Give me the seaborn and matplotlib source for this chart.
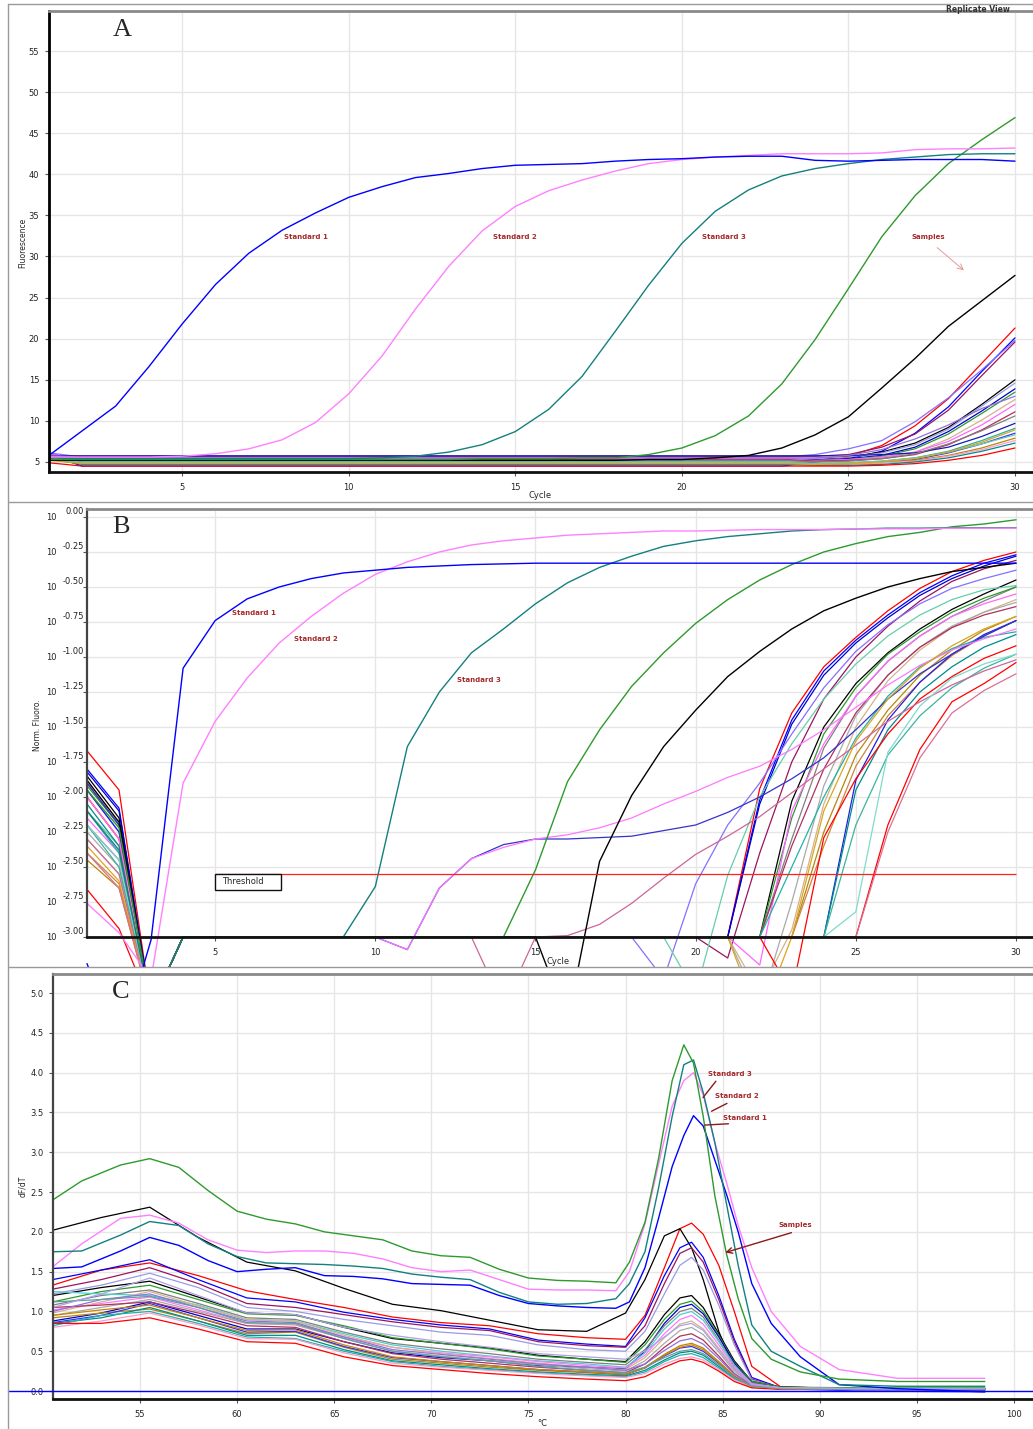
import matplotlib
matplotlib.use("Agg")
import matplotlib.pyplot as plt
from matplotlib.patches import Rectangle
from matplotlib.lines import Line2D
import pandas as pd
import seaborn as sns

sns.set_style("white")
plt.rcParams['font.family'] = ['DejaVu Sans']

# ------------------------------------------------------------------ data
CYCLES = list(range(1, 31))

# Panel A : raw fluorescence
A_STD1 = [5.8, 8.8, 11.8, 16.6, 21.8, 26.6, 30.4, 33.2, 35.3, 37.2, 38.5, 39.6, 40.1, 40.7, 41.1,
          41.2, 41.3, 41.6, 41.8, 41.9, 42.1, 42.2, 42.2, 41.7, 41.6, 41.7, 41.8, 41.8, 41.8, 41.6]
A_STD2 = [5.6, 5.6, 5.6, 5.6, 5.7, 6.0, 6.6, 7.7, 9.8, 13.3, 17.9, 23.6, 28.8, 33.1, 36.1,
          38.0, 39.3, 40.4, 41.3, 41.8, 42.1, 42.3, 42.5, 42.5, 42.5, 42.6, 43.0, 43.1, 43.1, 43.2]
A_STD3 = [5.5, 5.4, 5.4, 5.4, 5.4, 5.4, 5.4, 5.4, 5.4, 5.4, 5.5, 5.7, 6.2, 7.1, 8.7,
          11.4, 15.4, 20.9, 26.5, 31.6, 35.5, 38.1, 39.8, 40.7, 41.3, 41.8, 42.1, 42.4, 42.5, 42.5]
A_GREEN = [5.3, 5.3, 5.3, 5.3, 5.3, 5.3, 5.3, 5.3, 5.3, 5.3, 5.3, 5.3, 5.3, 5.4, 5.4,
           5.4, 5.5, 5.5, 5.9, 6.7, 8.2, 10.6, 14.5, 19.9, 26.1, 32.4, 37.4, 41.3, 44.2, 46.9]
A_BLACK = [5.2, 5.2, 5.2, 5.2, 5.2, 5.2, 5.2, 5.2, 5.2, 5.2, 5.2, 5.2, 5.2, 5.2, 5.2,
           5.2, 5.2, 5.2, 5.3, 5.3, 5.5, 5.8, 6.7, 8.3, 10.5, 14.0, 17.6, 21.5, 24.6, 27.7]
A_SMP_START = [6.0, 5.9, 6.1, 5.8, 5.6, 5.9, 5.7, 5.8, 5.5, 5.9, 5.6, 5.7, 5.5, 5.4, 5.3,
               5.6, 5.4, 4.9, 5.6, 5.3, 5.2, 5.7]
A_SMP_BASE = [5.3, 4.5, 5.6, 5.7, 5.4, 5.5, 5.3, 5.2, 5.0, 5.4, 5.3, 5.75, 5.0, 4.8, 4.8,
              4.9, 4.7, 4.5, 5.2, 4.9, 4.8, 5.5]
A_SMP_TAIL = [  # cycles 24..30
    [5.4, 5.7, 7.0, 9.4, 12.7, 17.0, 21.3],
    [5.0, 5.4, 6.3, 8.5, 11.7, 16.0, 20.1],
    [5.9, 6.6, 7.6, 9.9, 12.8, 16.2, 19.8],
    [5.7, 5.9, 6.8, 8.4, 11.3, 15.5, 19.6],
    [5.3, 5.6, 6.2, 7.3, 9.2, 12.0, 15.0],
    [5.4, 5.6, 6.1, 7.1, 9.0, 11.8, 14.6],
    [5.2, 5.4, 5.8, 6.8, 8.7, 11.2, 13.9],
    [5.1, 5.3, 5.7, 6.6, 8.4, 10.9, 13.5],
    [5.0, 5.1, 5.5, 6.2, 7.8, 10.1, 12.6],
    [5.2, 5.3, 5.6, 6.2, 7.5, 9.5, 12.0],
    [5.1, 5.2, 5.4, 5.9, 7.1, 8.9, 11.1],
    [5.75, 5.8, 5.9, 6.1, 6.8, 8.1, 9.7],
    [4.8, 4.9, 5.1, 5.5, 6.3, 7.6, 9.1],
    [4.7, 4.8, 5.0, 5.3, 6.1, 7.2, 8.5],
    [4.7, 4.8, 4.9, 5.2, 5.8, 6.7, 7.9],
    [4.7, 4.8, 4.9, 5.1, 5.7, 6.5, 7.6],
    [4.6, 4.6, 4.7, 5.0, 5.5, 6.3, 7.3],
    [4.5, 4.5, 4.6, 4.8, 5.2, 5.8, 6.7],
    [5.0, 5.1, 5.4, 6.0, 7.2, 8.8, 10.6],
    [4.8, 4.9, 5.1, 5.5, 6.2, 7.2, 8.3],
    [4.7, 4.8, 5.0, 5.4, 6.2, 7.4, 8.9],
    [5.5, 5.8, 6.5, 7.8, 9.5, 11.5, 13.0],
]

# Panel B : normalised fluorescence, stored as log10 values
B_YTICK_EXP = ["0.00", "-0.25", "-0.50", "-0.75", "-1.00", "-1.25", "-1.50",
               "-1.75", "-2.00", "-2.25", "-2.50", "-2.75", "-3.00"]
B_THRESHOLD = -2.55
B_STD1 = [-3.19, -3.8, -3.02, -1.08, -0.74, -0.585, -0.50, -0.44, -0.40, -0.38, -0.36, -0.35, -0.34, -0.335,
          -0.33, -0.33, -0.33, -0.33, -0.33, -0.33, -0.33, -0.33, -0.33, -0.33, -0.33, -0.33, -0.33, -0.33,
          -0.33, -0.33]
B_STD2 = [-2.76, -2.97, -3.3, -1.90, -1.46, -1.15, -0.90, -0.71, -0.545, -0.41, -0.32, -0.25, -0.20, -0.17,
          -0.15, -0.13, -0.12, -0.11, -0.10, -0.10, -0.095, -0.09, -0.09, -0.09, -0.085, -0.085, -0.085,
          -0.08, -0.08, -0.08]
B_STD3 = [-2.1, -2.38, -3.5, -3.0, -3.0, -3.0, -3.0, -3.0, -3.0, -2.64, -1.64, -1.25, -0.97, -0.80, -0.62,
          -0.47, -0.36, -0.28, -0.21, -0.17, -0.14, -0.12, -0.10, -0.09, -0.086, -0.08, -0.08, -0.077,
          -0.077, -0.077]
B_GREEN = [-1.95, -2.22, -3.5, -3.0, -3.0, -3.0, -3.0, -3.0, -3.0, -3.0, -3.0, -3.0, -3.0, -3.0, -2.52,
           -1.89, -1.52, -1.21, -0.97, -0.76, -0.59, -0.45, -0.34, -0.25, -0.19, -0.14, -0.11, -0.07,
           -0.05, -0.02]
B_BLACK = [-1.88, -2.18, -3.5, -3.0, -3.0, -3.0, -3.0, -3.0, -3.0, -3.0, -3.0, -3.0, -3.0, -3.0, -3.0,
           -3.6, -2.46, -1.99, -1.64, -1.38, -1.14, -0.96, -0.80, -0.67, -0.58, -0.50, -0.44, -0.39,
           -0.36, -0.33]
B_SMP_C1 = [-1.67, -1.80, -1.82, -1.90, -1.95, -1.85, -2.10, -2.00, -1.92, -2.15, -2.30, -2.25, -2.20,
            -2.45, -2.40, -1.95, -2.10, -2.05, -2.66, -2.20, -2.00, -2.30, -1.90, -2.00, -2.20, -2.35, -2.40]
B_SMP_C2 = [-1.95, -2.08, -2.10, -2.20, -2.25, -2.15, -2.35, -2.30, -2.20, -2.40, -2.55, -2.50, -2.45,
            -2.65, -2.62, -2.25, -2.40, -2.35, -2.94, -2.50, -2.30, -2.55, -2.20, -2.30, -2.45, -2.60, -2.65]
B_SMP_C3 = -3.5
B_FLOOR = -3.0
B_SMP_RISE = [21, 21, 21, 21, 19, 22, 20, 22, 22, 22, 22, 22, 22, 23, 23, 24, 22, 24, 23, 24, 25,
              13, 10, 10, 24, 22, 25]
B_SMP_TAIL = [  # from the rise cycle up to cycle 30
    [-3.0, -1.94, -1.40, -1.07, -0.86, -0.67, -0.51, -0.39, -0.31, -0.25],
    [-3.0, -2.02, -1.45, -1.10, -0.88, -0.70, -0.54, -0.42, -0.33, -0.27],
    [-3.0, -2.05, -1.48, -1.13, -0.90, -0.72, -0.56, -0.44, -0.35, -0.28],
    [-3.15, -2.40, -1.75, -1.30, -1.00, -0.78, -0.60, -0.46, -0.37, -0.31],
    [-3.3, -2.62, -2.20, -1.90, -1.55, -1.22, -0.96, -0.77, -0.62, -0.51, -0.44, -0.38],
    [-3.0, -2.03, -1.50, -1.19, -0.97, -0.80, -0.66, -0.55, -0.45],
    [-3.4, -2.56, -2.0, -1.62, -1.30, -1.05, -0.85, -0.70, -0.59, -0.52, -0.49],
    [-3.0, -2.3, -1.65, -1.28, -1.03, -0.85, -0.71, -0.60, -0.50],
    [-3.0, -2.15, -1.55, -1.22, -0.98, -0.82, -0.68, -0.58, -0.50],
    [-3.2, -2.1, -1.62, -1.28, -1.03, -0.85, -0.71, -0.62, -0.55],
    [-3.4, -2.95, -2.05, -1.50, -1.17, -0.95, -0.79, -0.68, -0.59],
    [-3.5, -2.75, -1.92, -1.42, -1.13, -0.93, -0.78, -0.68, -0.61],
    [-3.0, -2.35, -1.80, -1.40, -1.13, -0.93, -0.79, -0.70, -0.64],
    [-3.0, -2.25, -1.70, -1.38, -1.13, -0.95, -0.81, -0.71],
    [-3.0, -2.35, -1.78, -1.42, -1.18, -0.99, -0.85, -0.74],
    [-3.0, -1.88, -1.45, -1.18, -0.98, -0.84, -0.74],
    [-3.0, -2.5, -2.0, -1.58, -1.28, -1.07, -0.94, -0.86, -0.82],
    [-3.0, -1.95, -1.52, -1.25, -1.07, -0.93, -0.84],
    [-3.4, -2.29, -1.87, -1.55, -1.30, -1.14, -1.01, -0.92],
    [-3.0, -2.2, -1.70, -1.42, -1.22, -1.08, -0.98],
    [-3.0, -2.2, -1.66, -1.32, -1.19, -1.04],
    [-3.0, -3.5, -3.0, -2.99, -2.91, -2.76, -2.58, -2.41, -2.28, -2.14, -1.97, -1.80, -1.63, -1.46,
     -1.32, -1.20, -1.10, -1.02],
    [-3.0, -3.09, -2.65, -2.44, -2.34, -2.30, -2.30, -2.29, -2.28, -2.24, -2.20, -2.11, -2.00, -1.87,
     -1.72, -1.52, -1.30, -1.12, -0.98, -0.85, -0.74],
    [-3.0, -3.09, -2.65, -2.44, -2.36, -2.30, -2.27, -2.22, -2.15, -2.05, -1.96, -1.86, -1.78, -1.66,
     -1.52, -1.36, -1.20, -1.06, -0.95, -0.87, -0.80],
    [-3.0, -2.82, -1.68, -1.35, -1.15, -1.05, -0.98],
    [-3.6, -3.0, -2.1, -1.60, -1.30, -1.08, -0.92, -0.80, -0.71],
    [-3.0, -2.25, -1.72, -1.40, -1.24, -1.12],
]

# Panel C : melt curves (dF/dT)
C_T_STD = [50.5, 52, 54, 55.5, 57, 58.5, 60, 61.5, 63, 64.5, 66, 67.5, 69, 70.5, 72, 73.5, 75, 76.5,
           78, 79.5, 80.2, 81, 81.7, 82.4, 83, 83.5, 84, 84.6, 85.2, 85.8, 86.5, 87.5, 89, 91, 94, 98.5]
C_GREEN = [2.40, 2.64, 2.84, 2.92, 2.81, 2.52, 2.26, 2.16, 2.10, 2.00, 1.95, 1.90, 1.76, 1.70, 1.68, 1.53,
           1.42, 1.39, 1.38, 1.36, 1.62, 2.12, 2.92, 3.90, 4.35, 4.12, 3.45, 2.45, 1.72, 1.16, 0.66, 0.40,
           0.24, 0.15, 0.12, 0.12]
C_STD3 = [1.75, 1.76, 1.96, 2.13, 2.08, 1.85, 1.69, 1.61, 1.60, 1.59, 1.57, 1.54, 1.47, 1.43, 1.40, 1.24,
          1.12, 1.09, 1.10, 1.16, 1.35, 1.75, 2.55, 3.45, 4.10, 4.16, 3.75, 3.12, 2.35, 1.58, 0.83, 0.50,
          0.31, 0.08, 0.06, 0.06]
C_STD2 = [1.56, 1.85, 2.17, 2.21, 2.11, 1.90, 1.77, 1.74, 1.76, 1.76, 1.73, 1.66, 1.55, 1.50, 1.52, 1.40,
          1.28, 1.27, 1.27, 1.26, 1.50, 2.10, 2.85, 3.58, 3.90, 4.00, 3.72, 3.12, 2.62, 2.08, 1.55, 1.00,
          0.56, 0.27, 0.16, 0.16]
C_STD1 = [1.54, 1.56, 1.76, 1.93, 1.83, 1.64, 1.50, 1.53, 1.55, 1.45, 1.44, 1.41, 1.35, 1.34, 1.33, 1.20,
          1.10, 1.07, 1.05, 1.04, 1.12, 1.55, 2.17, 2.82, 3.21, 3.46, 3.33, 2.90, 2.47, 2.00, 1.35, 0.85,
          0.43, 0.08, 0.03, -0.01]
C_T_SMP = [50.5, 53, 55.5, 58, 60.5, 63, 65.5, 68, 70.5, 73, 75.5, 78, 80, 81, 82, 82.8, 83.4, 84,
           84.8, 85.6, 86.5, 88, 92, 98.5]
C_SMP = [
    [1.33, 1.52, 1.61, 1.45, 1.26, 1.15, 1.05, 0.93, 0.86, 0.82, 0.72, 0.67, 0.65, 0.95, 1.55, 2.04, 2.11, 1.97, 1.58, 1.00, 0.31, 0.05, 0.03, 0.03],
    [2.02, 2.18, 2.31, 1.93, 1.62, 1.51, 1.29, 1.09, 1.01, 0.89, 0.77, 0.75, 0.98, 1.40, 1.95, 2.04, 1.80, 1.40, 0.75, 0.28, 0.08, 0.05, 0.03, 0.03],
    [1.40, 1.52, 1.65, 1.40, 1.17, 1.12, 0.99, 0.90, 0.83, 0.78, 0.64, 0.59, 0.56, 0.92, 1.45, 1.80, 1.87, 1.68, 1.20, 0.65, 0.17, 0.04, 0.02, 0.02],
    [1.28, 1.40, 1.55, 1.35, 1.10, 1.05, 0.96, 0.87, 0.80, 0.76, 0.62, 0.57, 0.55, 0.82, 1.35, 1.73, 1.80, 1.62, 1.15, 0.62, 0.15, 0.04, 0.02, 0.02],
    [1.22, 1.33, 1.48, 1.30, 1.05, 1.00, 0.90, 0.82, 0.74, 0.70, 0.58, 0.52, 0.50, 0.75, 1.22, 1.58, 1.68, 1.52, 1.08, 0.58, 0.14, 0.04, 0.02, 0.02],
    [1.20, 1.30, 1.38, 1.18, 0.98, 0.96, 0.80, 0.66, 0.60, 0.54, 0.45, 0.40, 0.37, 0.62, 0.96, 1.17, 1.20, 1.05, 0.72, 0.38, 0.12, 0.05, 0.03, 0.03],
    [1.12, 1.25, 1.33, 1.15, 0.97, 0.95, 0.82, 0.67, 0.60, 0.53, 0.44, 0.40, 0.36, 0.58, 0.90, 1.09, 1.13, 1.00, 0.70, 0.36, 0.12, 0.05, 0.04, 0.04],
    [0.88, 0.98, 1.12, 0.95, 0.78, 0.78, 0.62, 0.48, 0.42, 0.38, 0.32, 0.30, 0.28, 0.50, 0.85, 1.05, 1.09, 0.97, 0.68, 0.35, 0.10, 0.04, 0.02, 0.01],
    [1.08, 1.20, 1.27, 1.10, 0.92, 0.90, 0.74, 0.60, 0.53, 0.47, 0.40, 0.36, 0.33, 0.52, 0.82, 1.00, 1.04, 0.93, 0.64, 0.33, 0.10, 0.04, 0.03, 0.03],
    [1.25, 1.22, 1.20, 1.08, 0.90, 0.88, 0.72, 0.58, 0.50, 0.44, 0.38, 0.34, 0.30, 0.48, 0.78, 0.96, 1.00, 0.89, 0.62, 0.32, 0.09, 0.04, 0.03, 0.03],
    [1.02, 1.10, 1.18, 1.02, 0.85, 0.84, 0.68, 0.55, 0.48, 0.43, 0.37, 0.32, 0.29, 0.45, 0.72, 0.90, 0.95, 0.84, 0.58, 0.30, 0.09, 0.04, 0.03, 0.03],
    [0.98, 1.12, 1.25, 1.07, 0.90, 0.88, 0.70, 0.55, 0.47, 0.41, 0.35, 0.30, 0.27, 0.42, 0.67, 0.84, 0.88, 0.78, 0.54, 0.28, 0.08, 0.04, 0.02, 0.02],
    [0.95, 1.05, 1.15, 1.00, 0.85, 0.83, 0.66, 0.50, 0.44, 0.38, 0.33, 0.28, 0.25, 0.38, 0.60, 0.76, 0.80, 0.71, 0.49, 0.25, 0.08, 0.04, 0.02, 0.02],
    [1.05, 1.08, 1.12, 0.98, 0.82, 0.80, 0.62, 0.47, 0.40, 0.35, 0.30, 0.26, 0.23, 0.34, 0.55, 0.69, 0.72, 0.64, 0.44, 0.22, 0.07, 0.03, 0.02, 0.02],
    [0.92, 0.98, 1.03, 0.88, 0.72, 0.74, 0.55, 0.40, 0.35, 0.30, 0.26, 0.23, 0.20, 0.30, 0.46, 0.57, 0.60, 0.54, 0.37, 0.19, 0.06, 0.03, 0.02, 0.02],
    [0.86, 0.95, 1.10, 0.92, 0.74, 0.75, 0.56, 0.42, 0.37, 0.32, 0.27, 0.24, 0.21, 0.29, 0.44, 0.54, 0.56, 0.50, 0.35, 0.18, 0.06, 0.03, 0.00, -0.01],
    [0.85, 0.92, 1.05, 0.88, 0.70, 0.70, 0.52, 0.38, 0.33, 0.28, 0.24, 0.21, 0.19, 0.26, 0.39, 0.48, 0.50, 0.45, 0.31, 0.16, 0.05, 0.03, 0.02, 0.02],
    [0.82, 0.95, 1.00, 0.85, 0.68, 0.66, 0.50, 0.37, 0.31, 0.27, 0.23, 0.20, 0.18, 0.24, 0.37, 0.45, 0.47, 0.42, 0.29, 0.15, 0.05, 0.03, 0.02, 0.02],
    [0.80, 0.88, 0.98, 0.83, 0.66, 0.65, 0.48, 0.35, 0.30, 0.26, 0.22, 0.19, 0.17, 0.22, 0.34, 0.41, 0.43, 0.39, 0.27, 0.14, 0.05, 0.03, 0.02, 0.02],
    [0.85, 0.85, 0.92, 0.78, 0.62, 0.60, 0.43, 0.32, 0.27, 0.22, 0.18, 0.15, 0.13, 0.18, 0.30, 0.38, 0.40, 0.36, 0.25, 0.12, 0.04, 0.02, 0.02, 0.02],
    [1.00, 1.15, 1.22, 1.05, 0.88, 0.86, 0.68, 0.52, 0.46, 0.40, 0.34, 0.30, 0.26, 0.34, 0.51, 0.63, 0.66, 0.59, 0.41, 0.21, 0.07, 0.03, 0.02, 0.02],
    [0.95, 1.02, 1.08, 0.92, 0.76, 0.77, 0.58, 0.43, 0.37, 0.32, 0.27, 0.24, 0.21, 0.29, 0.45, 0.55, 0.58, 0.52, 0.36, 0.18, 0.06, 0.03, 0.02, 0.02],
    [1.12, 1.15, 1.19, 1.05, 0.86, 0.85, 0.66, 0.50, 0.43, 0.38, 0.31, 0.26, 0.23, 0.30, 0.42, 0.50, 0.52, 0.47, 0.33, 0.17, 0.06, 0.03, 0.02, 0.02],
    [1.05, 1.22, 1.42, 1.20, 0.98, 0.96, 0.80, 0.70, 0.62, 0.55, 0.47, 0.43, 0.40, 0.50, 0.68, 0.82, 0.85, 0.76, 0.52, 0.27, 0.08, 0.04, 0.03, 0.03],
]

# ------------------------------------------------------------------ styles
C_BLUE, C_PINK, C_TEAL, C_GRN = "#0000FF", "#FF80FF", "#13807F", "#2E9A2E"
A_SMP_COLORS = ["#FF0000", "#0000FF", "#8470FF", "#99155F", "#000000", "#9A9AE6", "#0000CD", "#2E9A2E",
                "#D2B48C", "#FF66FF", "#B03060", "#1A1AAA", "#20B2AA", "#3333FF", "#B8860B", "#FF99CC",
                "#008B8B", "#FF0000", "#808080", "#66CDAA", "#DAA520", "#9370DB"]
B_SMP_COLORS = ["#FF0000", "#0000FF", "#0000CD", "#99155F", "#8470FF", "#000000", "#66CDAA", "#808080",
                "#2E9A2E", "#FF66FF", "#D2B48C", "#A9A9A9", "#B03060", "#B8860B", "#CD853F", "#2020E0",
                "#20B2AA", "#008B8B", "#FF0000", "#3CB3A0", "#FF0000", "#CC6699", "#3333CC", "#FF77FF",
                "#7FDBCA", "#DAA520", "#DB7093"]
C_SMP_COLORS = ["#FF0000", "#000000", "#0000FF", "#99155F", "#9A9AE6", "#000000", "#2E9A2E", "#0000CD",
                "#808080", "#48D1CC", "#FF77FF", "#D2B48C", "#A9A9A9", "#B03060", "#B8860B", "#3333FF",
                "#008B8B", "#20B2AA", "#FF99CC", "#FF0000", "#9370DB", "#CD8500", "#5F9EA0", "#B0A0E8"]
ANN = "#A52A2A"

# ------------------------------------------------------------------ build series
A_SMP = [[s] + [b] * 22 + t for s, b, t in zip(A_SMP_START, A_SMP_BASE, A_SMP_TAIL)]
B_SMP = [[c1, c2, B_SMP_C3] + [B_FLOOR] * (r - 4) + t
         for c1, c2, r, t in zip(B_SMP_C1, B_SMP_C2, B_SMP_RISE, B_SMP_TAIL)]
for s in A_SMP + B_SMP:
    assert len(s) == 30, len(s)
for s in C_SMP:
    assert len(s) == len(C_T_SMP)
for s in (C_GREEN, C_STD1, C_STD2, C_STD3):
    assert len(s) == len(C_T_STD)

W, H = 1033, 1429
fig = plt.figure(figsize=(W / 100, H / 100), dpi=100)


def fx(px):
    return px / W


def fy(py):
    return 1 - py / H


def axes_px(l, t, r, b):
    return fig.add_axes([fx(l), fy(b), fx(r) - fx(l), fy(t) - fy(b)])


def draw(ax, x, series, colors, lw=0.9, log=False):
    rows = []
    for i, ys in enumerate(series):
        for xv, yv in zip(x, ys):
            rows.append((f"s{i}", xv, 10 ** yv if log else yv))
    df = pd.DataFrame(rows, columns=["sid", "x", "y"])
    pal = {f"s{i}": c for i, c in enumerate(colors)}
    n0 = len(ax.lines)
    sns.lineplot(data=df, x="x", y="y", hue="sid", palette=pal, estimator=None, sort=False,
                 legend=False, ax=ax, linewidth=lw)
    return ax.lines[n0:]


def style_axes(ax, left_col="#444444", lw_left=1.6):
    ax.set_xlabel("")
    ax.set_ylabel("")
    ax.grid(True, color="#e6e6e6", lw=1)
    ax.set_axisbelow(True)
    ax.spines["right"].set_visible(False)
    ax.spines["top"].set_color("#8a8a8a")
    ax.spines["top"].set_linewidth(2)
    ax.spines["left"].set_color(left_col)
    ax.spines["left"].set_linewidth(lw_left)
    ax.spines["bottom"].set_color("#111111")
    ax.spines["bottom"].set_linewidth(2)
    ax.tick_params(axis="y", length=3, width=0.8, color="#555555", pad=4, labelsize=6,
                   left=True, labelcolor="#222222")
    ax.tick_params(axis="x", length=3, width=0.8, color="#555555", pad=5, labelsize=6,
                   bottom=True, labelcolor="#222222")


# ------------------------------------------------------------------ panel frames
for seg in [((8, 8), (4, 1429)), ((8, 1033), (4, 4)), ((8, 1033), (502, 502)), ((8, 1033), (967, 967))]:
    fig.add_artist(Line2D([fx(v) for v in seg[0]], [fy(v) for v in seg[1]], color="#9a9a9a", lw=1))

# ------------------------------------------------------------------ panel A
axA = axes_px(49, 11, 1033, 472)
draw(axA, CYCLES, A_SMP, A_SMP_COLORS, lw=0.9)
draw(axA, CYCLES, [A_BLACK, A_GREEN, A_STD3, A_STD2, A_STD1],
     ["#000000", C_GRN, C_TEAL, C_PINK, C_BLUE], lw=1.0)
axA.set_xlim(1, 30.54)
axA.set_ylim(3.78, 59.87)
axA.set_xticks(range(5, 31, 5))
axA.set_yticks(range(5, 56, 5))
style_axes(axA, left_col="#000000", lw_left=2)
for txt, x in [("Standard 1", 8.71), ("Standard 2", 15.0), ("Standard 3", 21.26), ("Samples", 27.4)]:
    axA.text(x, 32.4, txt, color=ANN, fontsize=5, weight="bold", ha="center", va="center")
axA.annotate("", xy=(28.53, 28.1), xytext=(27.6, 31.3),
             arrowprops=dict(arrowstyle="->", color="#E39A9A", lw=0.7))

# ------------------------------------------------------------------ panel B
axB = axes_px(87, 509, 1033, 937)
axB.set_yscale("log")
clip = Rectangle((fx(8), fy(967)), 1 - fx(8), fy(503) - fy(967), transform=fig.transFigure)
lines = draw(axB, CYCLES, B_SMP, B_SMP_COLORS, lw=0.9, log=True)
lines += draw(axB, CYCLES, [B_BLACK, B_GREEN, B_STD3, B_STD2, B_STD1],
              ["#000000", C_GRN, C_TEAL, C_PINK, C_BLUE], lw=1.0, log=True)
for ln in lines:
    ln.set_clip_path(clip)
axB.set_xlim(1, 30.53)
axB.set_ylim(1e-3, 10 ** 0.057)
axB.set_xticks(range(5, 31, 5))
tick_vals = [10 ** float(e) for e in B_YTICK_EXP]
axB.set_yticks(tick_vals)
axB.set_yticklabels([""] * len(tick_vals))
axB.yaxis.set_minor_locator(matplotlib.ticker.NullLocator())
style_axes(axB)
for e, v in zip(B_YTICK_EXP, tick_vals):
    axB.annotate("10", xy=(0, v), xycoords=("axes fraction", "data"), xytext=(-30 * 0.72, -0.5),
                 textcoords="offset points", ha="right", va="center", fontsize=6, color="#222222")
    axB.annotate(e, xy=(0, v), xycoords=("axes fraction", "data"), xytext=(-3 * 0.72, 5.5 * 0.72),
                 textcoords="offset points", ha="right", va="center", fontsize=6, color="#222222")
axB.hlines(10 ** B_THRESHOLD, 5, 30, color="#FF2020", lw=0.9, zorder=5)
axB.add_patch(Rectangle((5, 10 ** -2.665), 2.06, 10 ** B_THRESHOLD - 10 ** -2.665,
                        fc="white", ec="#111111", lw=1, zorder=6))
axB.text(5.2, 10 ** -2.606, "Threshold", fontsize=6, ha="left", va="center", zorder=7)
for txt, x, y in [("Standard 1", 6.22, -0.686), ("Standard 2", 8.16, -0.871), ("Standard 3", 13.25, -1.164)]:
    axB.text(x, 10 ** y, txt, color=ANN, fontsize=5, weight="bold", ha="center", va="center")

# ------------------------------------------------------------------ panel C
axC = axes_px(53, 974, 1033, 1399)
draw(axC, C_T_SMP, C_SMP, C_SMP_COLORS, lw=0.9)
draw(axC, C_T_STD, [C_STD1, C_STD2, C_STD3, C_GREEN], [C_BLUE, C_PINK, C_TEAL, C_GRN], lw=1.0)
axC.set_xlim(50.52, 100.98)
axC.set_ylim(-0.1, 5.24)
axC.set_xticks(range(55, 101, 5))
axC.set_yticks([i * 0.5 for i in range(11)])
axC.set_yticklabels([f"{i * 0.5:.1f}" for i in range(11)])
style_axes(axC)
axC.axhline(0, xmin=(8 - 53) / 980, xmax=1, color="#0000FF", lw=1, clip_on=False, zorder=8)
ann_c = [("Standard 3", (85.38, 3.98), (84.74, 3.92), (83.9, 3.66)),
         ("Standard 2", (85.74, 3.71), (85.35, 3.63), (84.3, 3.50)),
         ("Standard 1", (86.13, 3.43), (85.44, 3.36), (83.95, 3.34))]
for txt, tp, p0, p1 in ann_c:
    axC.text(*tp, txt, color=ANN, fontsize=5, weight="bold", ha="center", va="center")
    axC.annotate("", xy=p1, xytext=p0, arrowprops=dict(arrowstyle="-", color="#8B1A1A", lw=1))
axC.text(88.73, 2.08, "Samples", color=ANN, fontsize=5, weight="bold", ha="center", va="center")
axC.annotate("", xy=(85.0, 1.73), xytext=(88.68, 2.0),
             arrowprops=dict(arrowstyle="->", color="#8B1A1A", lw=1))

# ------------------------------------------------------------------ texts
for letter, x, y in [("A", 122, 30), ("B", 121, 527), ("C", 121, 992)]:
    fig.text(fx(x), fy(y), letter, fontsize=19, family=["Liberation Serif", "DejaVu Serif"],
             ha="center", va="center")
fig.text(fx(540), fy(496), "Cycle", fontsize=6, ha="center", va="center")
fig.text(fx(558), fy(962), "Cycle", fontsize=6, ha="center", va="center")
fig.text(fx(542), fy(1423), "°C", fontsize=6, ha="center", va="center")
fig.text(fx(23), fy(243), "Fluorescence", rotation=90, fontsize=5.5, ha="center", va="center")
fig.text(fx(37), fy(725), "Norm. Fluoro.", rotation=90, fontsize=5.5, ha="center", va="center")
fig.text(fx(23), fy(1186), "dF/dT", rotation=90, fontsize=5.5, ha="center", va="center")
fig.text(fx(978), fy(10), "Replicate View", fontsize=5.5, weight="bold", ha="center", va="center",
         color="#333333")

fig.savefig("out.png", dpi=100)
